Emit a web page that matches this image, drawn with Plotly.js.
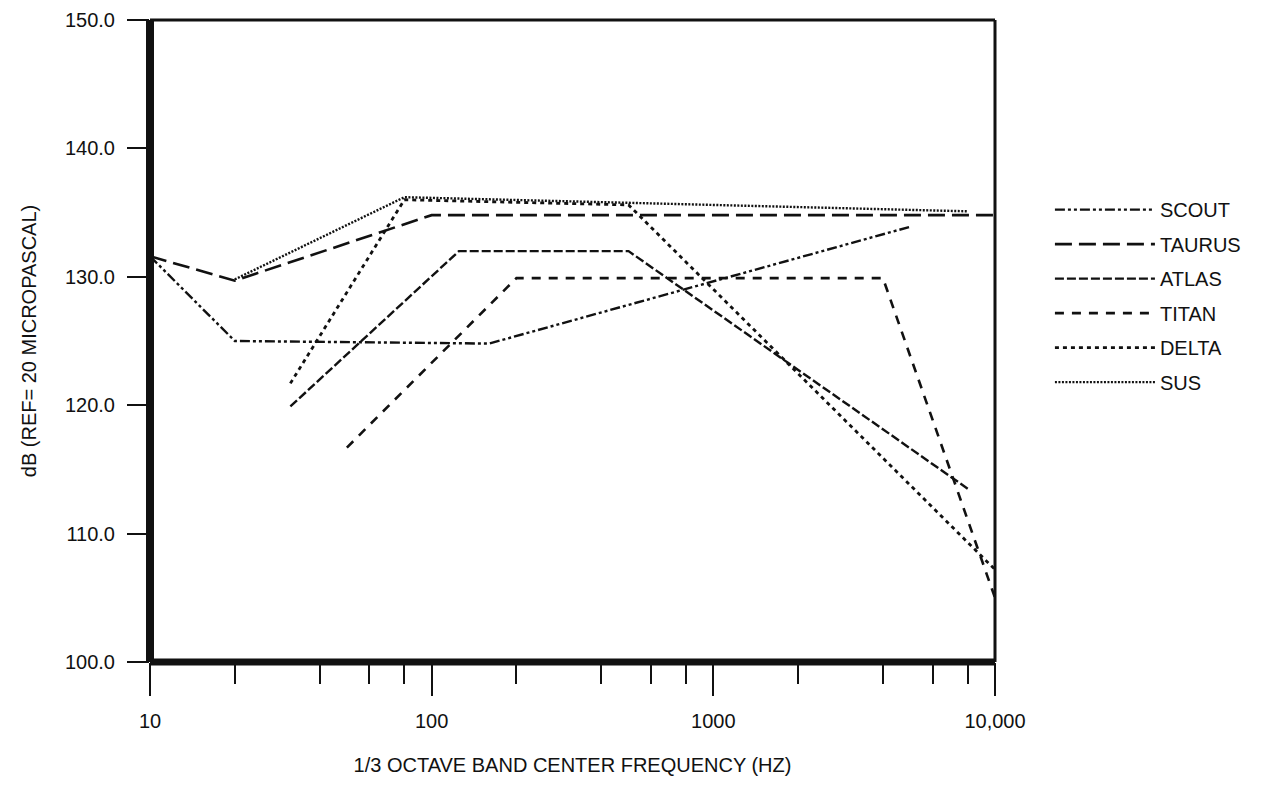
<!DOCTYPE html>
<html><head><meta charset="utf-8">
<script src="https://cdn.plot.ly/plotly-3.0.1.min.js"></script>
<style>html,body{margin:0;padding:0;background:#fff}#chart{width:1277px;height:788px}</style>
</head><body><div id="chart"></div>
<script>
// Data
const seriesNames = ["SCOUT", "TAURUS", "ATLAS", "TITAN", "DELTA", "SUS"];
const scoutFreq  = [10, 20, 160, 5000];
const scoutDb    = [131.6, 125.0, 124.8, 133.9];
const taurusFreq = [10, 20, 100, 10000];
const taurusDb   = [131.6, 129.7, 134.8, 134.8];
const atlasFreq  = [31.5, 125, 500, 8000];
const atlasDb    = [119.9, 132.0, 132.0, 113.5];
const titanFreq  = [50, 200, 4000, 10000];
const titanDb    = [116.7, 129.9, 129.9, 105.0];
const deltaFreq  = [31.5, 80, 500, 10000];
const deltaDb    = [121.7, 136.0, 135.6, 107.2];
const susFreq    = [20, 80, 8000];
const susDb      = [129.8, 136.2, 135.1];

const xTickVals  = [10, 100, 1000, 10000];
const xTickText  = ["10", "100", "1000", "10,000"];
const xMinorVals = [20, 40, 60, 80, 200, 400, 600, 800, 2000, 4000, 6000, 8000];
const yTickVals  = [100, 110, 120, 130, 140, 150];
const yTickText  = ["100.0", "110.0", "120.0", "130.0", "140.0", "150.0"];

const ink = "#111";
const font = "Liberation Sans, Arial, Helvetica, sans-serif";

const styles = [
  {dash: "10px,3px,3px,3px,3px,3px", width: 2.4},
  {dash: "17px,7px", width: 2.6},
  {dash: "9px,3px", width: 2.4},
  {dash: "9px,8px", width: 2.6},
  {dash: "4px,4px", width: 2.8},
  {dash: "2px,1.5px", width: 2.4}
];
const xs = [scoutFreq, taurusFreq, atlasFreq, titanFreq, deltaFreq, susFreq];
const ys = [scoutDb, taurusDb, atlasDb, titanDb, deltaDb, susDb];

const traces = seriesNames.map((n, i) => ({
  type: "scatter", mode: "lines", name: n, x: xs[i], y: ys[i],
  legendgroup: n,
  line: {color: ink, width: styles[i].width, dash: styles[i].dash}
}));

const layout = {
  width: 1277, height: 788,
  margin: {l: 150, r: 282, t: 20, b: 126},
  paper_bgcolor: "#fff", plot_bgcolor: "#fff",
  font: {family: font, size: 20, color: ink},
  showlegend: true,
  legend: {x: 1.065, y: 0.735, xanchor: "left", yanchor: "top",
           itemwidth: 100, tracegroupgap: 5.5, font: {size: 20, color: ink},
           bgcolor: "rgba(0,0,0,0)"},
  xaxis: {
    type: "log", range: [1, 4],
    tickmode: "array", tickvals: xTickVals, ticktext: xTickText,
    ticks: "outside", ticklen: 33, tickwidth: 2, tickcolor: ink,
    showgrid: false, zeroline: false, showline: false,
    tickfont: {size: 20}, ticklabelstandoff: 8,
    minor: {tickmode: "array", tickvals: xMinorVals, ticks: "outside",
            ticklen: 21, tickwidth: 2, tickcolor: ink, showgrid: false},
    title: {text: "1/3 OCTAVE BAND CENTER FREQUENCY (HZ)", font: {size: 20}, standoff: 26}
  },
  yaxis: {
    range: [100, 150],
    tickmode: "array", tickvals: yTickVals, ticktext: yTickText,
    ticks: "outside", ticklen: 22, tickwidth: 2, tickcolor: ink,
    showgrid: false, zeroline: false, showline: false,
    tickfont: {size: 20}, ticklabelstandoff: 8,
    title: {text: "dB (REF= 20 MICROPASCAL)", font: {size: 20}, standoff: 22}
  },
  shapes: [
    {type: "line", xref: "paper", yref: "paper", x0: 0, x1: 0, y0: 0, y1: 1, line: {color: ink, width: 8}},
    {type: "line", xref: "paper", yref: "paper", x0: 0, x1: 1, y0: 0, y1: 0, line: {color: ink, width: 7}},
    {type: "line", xref: "paper", yref: "paper", x0: 0, x1: 1, y0: 1, y1: 1, line: {color: ink, width: 3}},
    {type: "line", xref: "paper", yref: "paper", x0: 1, x1: 1, y0: 0, y1: 1, line: {color: ink, width: 3}}
  ]
};

Plotly.newPlot("chart", traces, layout, {displayModeBar: false, staticPlot: true});
</script>
</body></html>
